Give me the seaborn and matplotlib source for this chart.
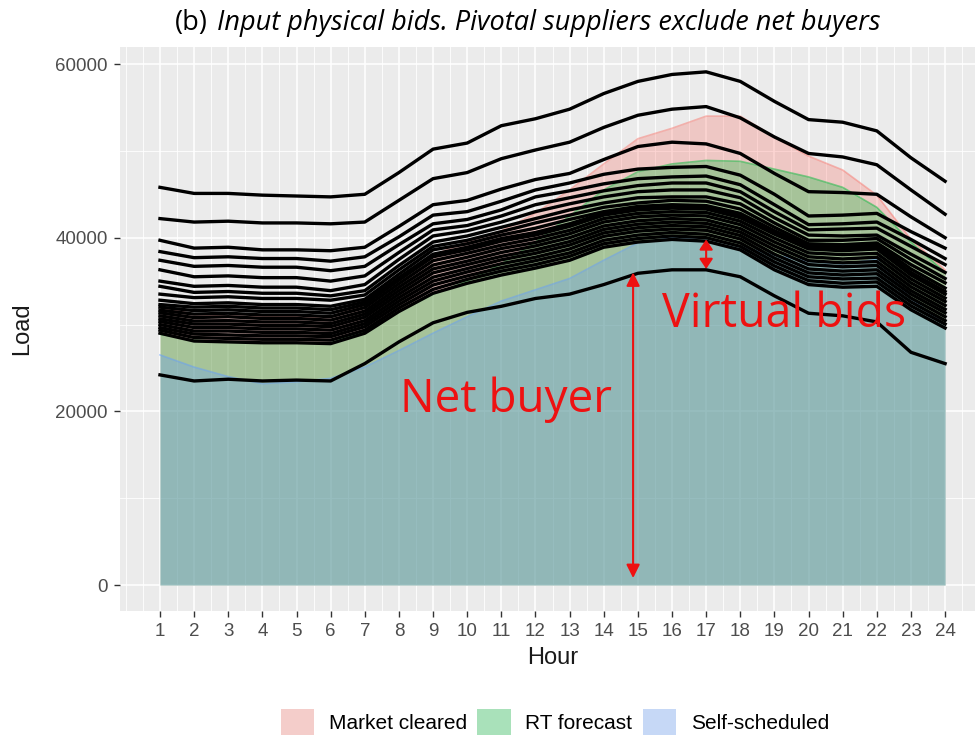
import matplotlib
matplotlib.use("Agg")
import matplotlib.pyplot as plt
import seaborn as sns
import pandas as pd
from matplotlib.patches import Patch
from matplotlib.ticker import MultipleLocator, FixedLocator

hours = list(range(1, 25))

# shaded areas
market_cleared = [32000, 31200, 31000, 30900, 30900, 30900, 32300, 35000, 38000, 39500, 40800, 42800,
                  45500, 48500, 51400, 52600, 54000, 54000, 51600, 49400, 47800, 44900, 39800, 36300]
rt_forecast = [28900, 28200, 28000, 27900, 27900, 27900, 29200, 31500, 33500, 35000, 37000, 39500,
               42500, 45500, 47600, 48500, 48900, 48800, 47900, 47000, 45800, 43500, 39500, 36000]
self_scheduled = [26500, 25100, 24000, 23200, 23400, 23800, 25100, 27000, 29000, 30900, 32700, 34000,
                  35300, 37400, 39400, 40000, 40000, 39000, 38000, 37300, 37000, 37500, 33000, 30000]

# physical bid curves, top to bottom
bid_01 = [45800, 45100, 45100, 44900, 44800, 44700, 45000, 47500, 50200, 50900, 52900, 53700,
          54800, 56600, 58000, 58800, 59100, 58000, 55700, 53600, 53300, 52300, 49200, 46500]
bid_02 = [42200, 41800, 41900, 41700, 41700, 41600, 41800, 44300, 46800, 47500, 49100, 50100,
          51000, 52700, 54100, 54800, 55100, 53800, 51600, 49700, 49300, 48400, 45500, 42700]
bid_03 = [39700, 38800, 38900, 38600, 38600, 38500, 38900, 41300, 43800, 44300, 45600, 46700,
          47400, 49000, 50500, 51000, 50800, 49700, 47400, 45300, 45200, 45000, 42400, 40000]
bid_04 = [38400, 37700, 37800, 37600, 37600, 37300, 37800, 40100, 42600, 43000, 44200, 45500,
          46300, 47300, 47900, 48100, 48200, 47200, 45000, 42500, 42600, 42800, 40700, 38800]
bid_05 = [37400, 36700, 36800, 36600, 36600, 36200, 36700, 39200, 41600, 42100, 43200, 44700,
          45400, 46200, 46800, 47000, 47100, 46100, 43800, 41500, 41600, 41800, 39800, 37600]
bid_06 = [36300, 35500, 35600, 35400, 35400, 35000, 35600, 38300, 40900, 41400, 42500, 43800,
          44600, 45400, 46000, 46300, 46300, 45300, 43000, 40900, 41000, 41100, 39000, 36900]
bid_07 = [35000, 34400, 34500, 34300, 34300, 33900, 34600, 37500, 40200, 40800, 41800, 43000,
          43900, 44700, 45300, 45500, 45500, 44600, 42300, 40300, 40200, 40300, 38100, 36000]
bid_08 = [34400, 33700, 33800, 33600, 33600, 33300, 33900, 36800, 39500, 40200, 41200, 42200,
          43200, 44000, 44600, 44700, 44700, 43900, 41700, 39700, 39700, 39900, 37500, 35300]
bid_09 = [33500, 33100, 33200, 33000, 33000, 32800, 33400, 36300, 39000, 39700, 40700, 41700,
          42600, 43500, 44000, 44300, 44200, 43300, 41200, 39300, 39200, 39400, 36900, 34800]
bid_10 = [32800, 32400, 32500, 32300, 32300, 32100, 32900, 35800, 38600, 39300, 40300, 41100,
          42100, 43000, 43600, 43800, 43700, 42800, 40800, 39100, 38900, 39200, 36400, 34200]
bid_11 = [32300, 32000, 32100, 31900, 31900, 31700, 32600, 35400, 38100, 38900, 39900, 40600,
          41600, 42800, 43400, 43600, 43500, 42500, 40600, 38900, 38700, 38900, 36000, 33800]
bid_12 = [32000, 31600, 31700, 31500, 31500, 31300, 32300, 35100, 37800, 38600, 39600, 40300,
          41300, 42600, 43200, 43400, 43300, 42300, 40400, 38700, 38500, 38700, 35700, 33500]
bid_13 = [31650, 31200, 31300, 31100, 31100, 30900, 31950, 34700, 37350, 38200, 39150, 39900,
          40850, 42200, 42800, 43000, 42900, 41900, 39950, 38250, 38050, 38200, 35250, 33050]
bid_14 = [31350, 30800, 30900, 30700, 30700, 30500, 31550, 34300, 36850, 37750, 38750, 39450,
          40450, 41800, 42400, 42600, 42500, 41500, 39500, 37800, 37550, 37750, 34800, 32650]
bid_15 = [31000, 30400, 30450, 30300, 30300, 30100, 31200, 33900, 36400, 37300, 38300, 39050,
          40000, 41350, 41950, 42200, 42050, 41050, 39050, 37350, 37100, 37250, 34350, 32200]
bid_16 = [30650, 30050, 30050, 29900, 29900, 29750, 30850, 33500, 35950, 36900, 37850, 38600,
          39550, 40950, 41550, 41800, 41650, 40650, 38600, 36900, 36650, 36800, 33900, 31750]
bid_17 = [30350, 29650, 29650, 29500, 29500, 29350, 30450, 33100, 35450, 36450, 37450, 38200,
          39150, 40550, 41150, 41400, 41250, 40250, 38100, 36400, 36150, 36300, 33500, 31350]
bid_18 = [30000, 29250, 29250, 29100, 29100, 28950, 30100, 32700, 35000, 36050, 37000, 37750,
          38700, 40150, 40750, 41000, 40850, 39850, 37650, 35950, 35700, 35850, 33050, 30900]
bid_19 = [29650, 28900, 28800, 28700, 28700, 28600, 29750, 32300, 34550, 35600, 36550, 37350,
          38250, 39700, 40300, 40600, 40400, 39400, 37200, 35500, 35250, 35350, 32600, 30450]
bid_20 = [29350, 28500, 28400, 28300, 28300, 28200, 29350, 31900, 34050, 35200, 36150, 36900,
          37850, 39300, 39900, 40200, 40000, 39000, 36750, 35050, 34750, 34900, 32150, 30050]
bid_21 = [29000, 28100, 28000, 27900, 27900, 27800, 29000, 31500, 33600, 34750, 35700, 36500,
          37400, 38900, 39500, 39800, 39600, 38600, 36300, 34600, 34300, 34400, 31700, 29600]
net_buyer_bid = [24200, 23500, 23700, 23500, 23600, 23500, 25500, 28000, 30200, 31400, 32100, 33000,
                 33500, 34600, 35900, 36300, 36300, 35500, 33300, 31300, 31000, 30300, 26800, 25500]

bids = [bid_01, bid_02, bid_03, bid_04, bid_05, bid_06, bid_07, bid_08, bid_09, bid_10, bid_11,
        bid_12, bid_13, bid_14, bid_15, bid_16, bid_17, bid_18, bid_19, bid_20, bid_21, net_buyer_bid]

area_names = ["Market cleared", "RT forecast", "Self-scheduled"]
area_values = [market_cleared, rt_forecast, self_scheduled]
area_colors = ["#F8766D", "#00BA38", "#619CFF"]
key_colors = ["#F4CDCA", "#A9E1BA", "#C6D8F6"]

long_df = pd.DataFrame({
    "Hour": hours * len(bids),
    "Load": [v for b in bids for v in b],
    "bid": [i for i, b in enumerate(bids) for _ in b],
})

fig = plt.figure(figsize=(9.75, 7.35), dpi=100)
ax = fig.add_axes([0.1231, 0.1691, 0.8872, 0.7674])
ax.set_facecolor("#EBEBEB")
for s in ax.spines.values():
    s.set_visible(False)

for vals, col in zip(area_values, area_colors):
    ax.fill_between(hours, 0, vals, color=col, alpha=0.3, lw=0, zorder=2)
    ax.plot(hours, vals, color=col, alpha=0.5, lw=1.2, zorder=2)

sns.lineplot(data=long_df, x="Hour", y="Load", units="bid", estimator=None,
             color="black", lw=2.4, ax=ax, legend=False, zorder=3)

ax.set_xlim(-0.17, 25.17)
ax.set_ylim(-2960, 62000)
ax.xaxis.set_major_locator(FixedLocator(hours))
ax.xaxis.set_minor_locator(MultipleLocator(0.5))
ax.yaxis.set_major_locator(FixedLocator([0, 20000, 40000, 60000]))
ax.yaxis.set_minor_locator(FixedLocator([10000, 30000, 50000]))
ax.grid(which="major", color="white", lw=1.1, zorder=0)
ax.grid(which="minor", color="white", lw=0.6, zorder=0)
ax.set_axisbelow(True)
ax.tick_params(which="major", length=4, width=1, color="#333333", labelcolor="#4D4D4D",
               labelsize=13.5, pad=5)
ax.tick_params(which="minor", length=0)
for lab in ax.get_xticklabels() + ax.get_yticklabels():
    lab.set_family("Liberation Sans")

ax.set_xlabel("Hour", fontsize=17, family="Liberation Sans", color="#1A1A1A", labelpad=5)
ax.set_ylabel("Load", fontsize=17, family="Liberation Sans", color="#1A1A1A", labelpad=16)

# annotations
ax.annotate("", xy=(14.86, 36000), xytext=(14.86, 800),
            arrowprops=dict(arrowstyle="<|-|>,head_length=0.8,head_width=0.4",
                            color="#EE1111", lw=1.5, shrinkA=0, shrinkB=0), zorder=5)
ax.annotate("", xy=(17.0, 39800), xytext=(17.0, 36400),
            arrowprops=dict(arrowstyle="<|-|>,head_length=0.6,head_width=0.4",
                            color="#EE1111", lw=1.5, shrinkA=0, shrinkB=0), zorder=5)
ax.text(8.03, 19900, "Net buyer", color="#EE1111", fontsize=33, family="Open Sans",
        ha="left", va="baseline", zorder=6)
ax.text(15.71, 29700, "Virtual bids", color="#EE1111", fontsize=33.5, family="Open Sans",
        ha="left", va="baseline", zorder=6)

fig.text(175 / 975, 1 - 23 / 735, "(b)", fontsize=19.5, family="Open Sans", va="center", ha="left")
fig.text(217 / 975, 1 - 23 / 735, "Input physical bids. Pivotal suppliers exclude net buyers",
         fontsize=19.5, family="Open Sans", style="italic", va="center", ha="left")

handles = [Patch(facecolor=c, edgecolor="none", label=n) for n, c in zip(area_names, key_colors)]
fig.legend(handles=handles, loc="center", bbox_to_anchor=(555 / 975, 1 - 722 / 735), ncol=3,
           frameon=False, prop={"family": "Liberation Sans", "size": 15},
           handlelength=1.6, handleheight=1.6, handletextpad=0.7, columnspacing=0.5)

fig.savefig("out.png", dpi=100)
